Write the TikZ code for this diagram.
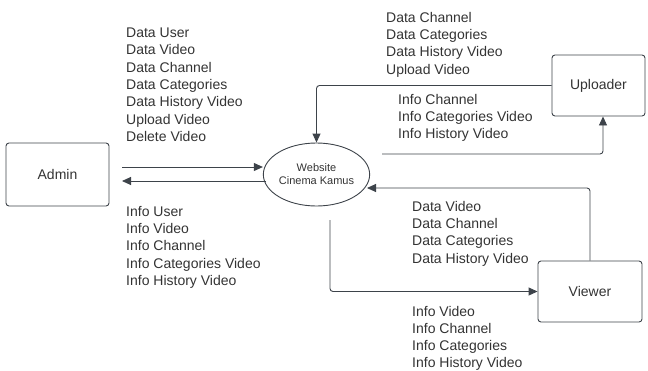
\documentclass[tikz,border=0pt]{standalone}
\usepackage{fontspec}
\setmainfont{Liberation Sans}
\usetikzlibrary{arrows.meta,shapes.geometric}
\definecolor{linegray}{HTML}{3D434A}
\definecolor{textgray}{HTML}{333333}
\tikzset{
  entity/.style={draw=linegray, line width=0.9pt, rounded corners=3pt,
    text=textgray, font=\fontsize{14}{17}\selectfont},
  process/.style={draw=linegray, line width=0.9pt, ellipse, inner sep=0pt,
    minimum width=103pt, minimum height=63pt, align=center,
    text=textgray, font=\fontsize{11}{13}\selectfont},
  flow/.style={draw=linegray, line width=0.9pt, rounded corners=3pt,
    -{Triangle[length=9pt,width=8pt]}},
  lbl/.style={anchor=north west, inner sep=0pt, align=left, text=textgray,
    font=\fontsize{14}{17.3}\selectfont}
}
\begin{document}
\begin{tikzpicture}[x=1pt,y=-1pt]
\useasboundingbox (0,0) rectangle (648,370);
% entities and process
\node[entity, minimum width=103pt, minimum height=63pt] (admin) at (57.5,174.5) {Admin};
\node[process] (web) at (316.5,174.5) {Website\\Cinema Kamus};
\node[entity, minimum width=93pt, minimum height=61pt] (uploader) at (598.5,85.5) {Uploader};
\node[entity, minimum width=104pt, minimum height=61pt] (viewer) at (590,291.5) {Viewer};
% free ends
\coordinate (a1) at (122,167);
\coordinate (a2) at (266,181);
\coordinate (a3) at (122,181);
\coordinate (u1) at (382,154);
\coordinate (v1) at (367,188);
\coordinate (v2) at (330,220);
% flows
\draw[flow] (a1) -- (a1 -| web.west);
\draw[flow] (a2) -- (a3);
\draw[flow] (uploader.west) -| (web.north);
\draw[flow] (u1) -| ([xshift=4.5pt]uploader.south);
\draw[flow] (viewer.north) |- (v1);
\draw[flow] (v2) |- (viewer.west);
% labels
\node[lbl] (admindata) at (126,27.8) {Data User\\Data Video\\Data Channel\\Data Categories\\Data History Video\\Upload Video\\Delete Video};
\node[lbl] (admininfo) at (126,205.8) {Info User\\Info Video\\Info Channel\\Info Categories Video\\Info History Video};
\node[lbl] (uploaddata) at (386,11.8) {Data Channel\\Data Categories\\Data History Video\\Upload Video};
\node[lbl, font=\fontsize{14}{17}\selectfont] (uploadinfo) at (398,93.8) {Info Channel\\Info Categories Video\\Info History Video};
\node[lbl] (viewdata) at (412,200.8) {Data Video\\Data Channel\\Data Categories\\Data History Video};
\node[lbl, font=\fontsize{14}{17}\selectfont] (viewinfo) at (412,305.8) {Info Video\\Info Channel\\Info Categories\\Info History Video};
\end{tikzpicture}
\end{document}
